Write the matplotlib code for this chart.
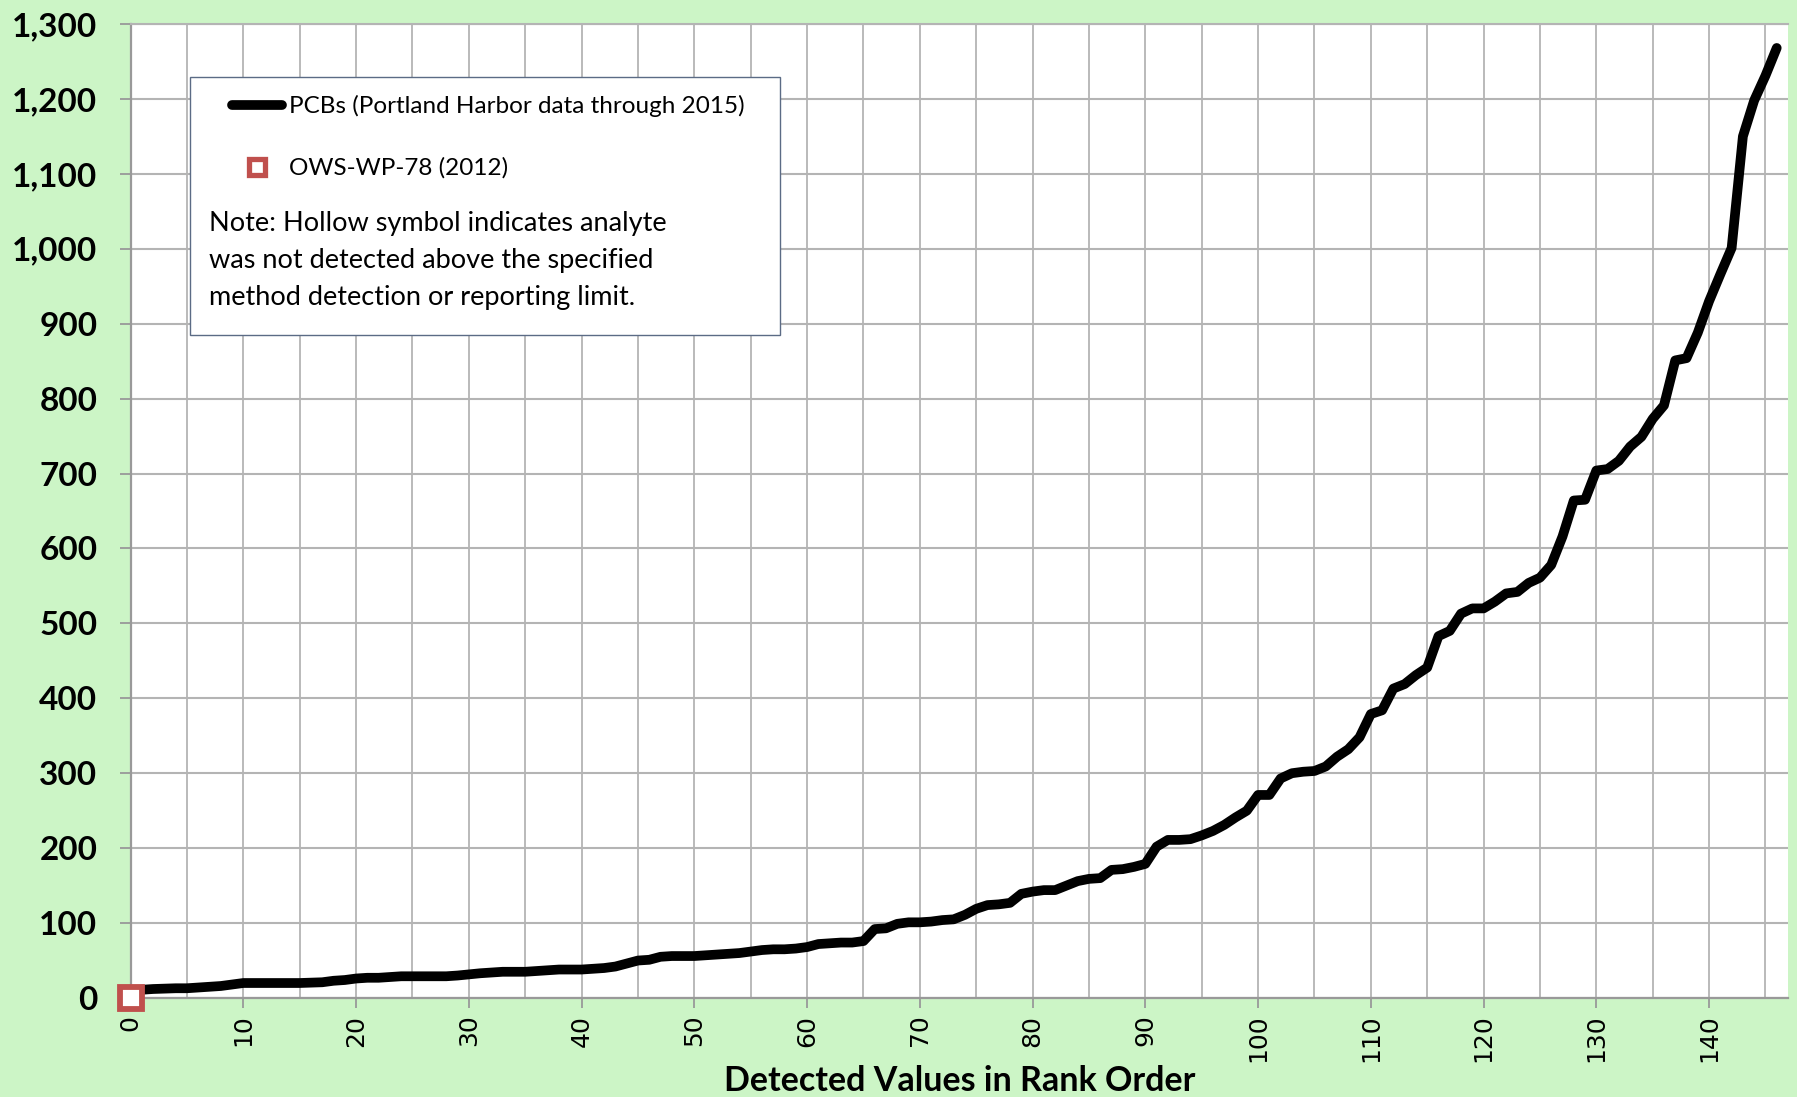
import matplotlib.pyplot as plt
from matplotlib.ticker import MultipleLocator, FuncFormatter
from matplotlib.patches import Rectangle
from matplotlib.lines import Line2D

# PCB results, ranked
rank = list(range(1, 147))
pcb = [11, 12, 12.5, 13, 13, 14, 15, 16, 18, 20,
       20, 20, 20, 20, 20, 20.5, 21, 23, 24, 26,
       27, 27, 28, 29, 29, 29, 29, 29, 30, 31.5,
       33, 34, 35, 35, 35, 36, 37, 38, 38, 38,
       39, 40, 42, 46, 50, 51, 55, 56, 56, 56,
       57, 58, 59, 60, 62, 64, 65, 65, 66, 68,
       72, 73, 74, 74, 76, 92, 93, 99, 101, 101,
       102, 104, 105, 111, 119, 124, 125, 127, 139, 142,
       144, 144, 150, 156, 159, 160, 171, 172, 175, 179,
       202, 211, 211, 212, 217, 223, 231, 241, 250, 271,
       271, 293, 300, 302, 303, 309, 322, 332, 348, 379,
       384, 413, 419, 431, 441, 483, 490, 513, 520, 520,
       529, 540, 542, 554, 561, 578, 616, 664, 665, 704,
       706, 717, 736, 749, 773, 791, 851, 854, 888, 930,
       966, 1001, 1150, 1198, 1231, 1268]

# OWS-WP-78 (2012), not detected
ows_rank = [0]
ows_value = [0]

line_label = 'PCBs (Portland Harbor data through 2015)'
ows_label = 'OWS-WP-78 (2012)'
note_lines = ['Note: Hollow symbol indicates analyte',
              'was not detected above the specified',
              'method detection or reporting limit.']

BG = '#ccf5c6'
GRID = '#b4b4b4'
RED = '#c0504d'
W, H = 1797, 1097

fig = plt.figure(figsize=(W / 100, H / 100), dpi=100, facecolor=BG)
ax = fig.add_axes([130.6 / W, 1 - 998 / H, (1788 - 130.6) / W, (998 - 24) / H])
ax.set_facecolor('white')

ax.plot(rank, pcb, color='black', lw=7, solid_joinstyle='round',
        solid_capstyle='round', zorder=4)
ax.plot(ows_rank, ows_value, ls='none', marker='s', ms=15.5, mew=4.2,
        mec=RED, mfc='white', clip_on=False, zorder=6)

ax.set_xlim(0, 147)
ax.set_ylim(0, 1300)
ax.xaxis.set_major_locator(MultipleLocator(10))
ax.xaxis.set_minor_locator(MultipleLocator(5))
ax.yaxis.set_major_locator(MultipleLocator(100))
ax.yaxis.set_major_formatter(FuncFormatter(lambda v, p: f'{v:,.0f}'))

ax.grid(True, which='both', axis='x', color=GRID, lw=1.3, zorder=0)
ax.grid(True, which='major', axis='y', color=GRID, lw=1.5, zorder=0)
ax.set_axisbelow(True)

ax.spines['right'].set_visible(False)
ax.spines['top'].set_color(GRID)
ax.spines['top'].set_linewidth(1.5)
for s in ['left', 'bottom']:
    ax.spines[s].set_color('#999999')
    ax.spines[s].set_linewidth(1.6)

ax.tick_params(axis='y', length=8, width=1.3, color='#999999', pad=16,
               labelsize=24)
ax.tick_params(axis='x', which='major', length=7, width=1.3, color='#999999',
               pad=5, labelsize=18, labelrotation=90)
ax.tick_params(axis='x', which='minor', length=0)
for lab in ax.get_yticklabels():
    lab.set_fontfamily('Lato')
    lab.set_fontweight('bold')
for lab in ax.get_xticklabels():
    lab.set_fontfamily('DejaVu Sans')

ax.set_xlabel('Detected Values in Rank Order', fontsize=24.5, fontweight='bold',
              family='Lato')
ax.xaxis.label.set_va('center')
ax.xaxis.set_label_coords(0.5, -(1081 - 998) / (998 - 24))

# legend box with note
def fx(px):
    return px / W

def fy(py):
    return 1 - py / H

fig.add_artist(Rectangle((fx(190), fy(335)), fx(780) - fx(190), fy(77) - fy(335),
                         transform=fig.transFigure, facecolor='white',
                         edgecolor='#5b6b85', lw=1.0, zorder=5))
fig.add_artist(Line2D([fx(232), fx(282)], [fy(105), fy(105)], color='black',
                      lw=7, solid_capstyle='round', transform=fig.transFigure,
                      zorder=6))
fig.add_artist(Line2D([fx(257)], [fy(167)], ls='none', marker='s', ms=12,
                      mew=3.8, mec=RED, mfc='white', transform=fig.transFigure,
                      zorder=6))
fig.text(fx(289), fy(106), line_label, fontsize=17.5, family='Lato',
         va='center', ha='left', zorder=7)
fig.text(fx(289), fy(168), ows_label, fontsize=17.5, family='Lato',
         va='center', ha='left', zorder=7)
for i, line in enumerate(note_lines):
    fig.text(fx(209), fy(224 + 36.5 * i), line, fontsize=19.5, family='Lato',
             va='center', ha='left', zorder=7)

fig.savefig('out.png', dpi=100, facecolor=BG)
